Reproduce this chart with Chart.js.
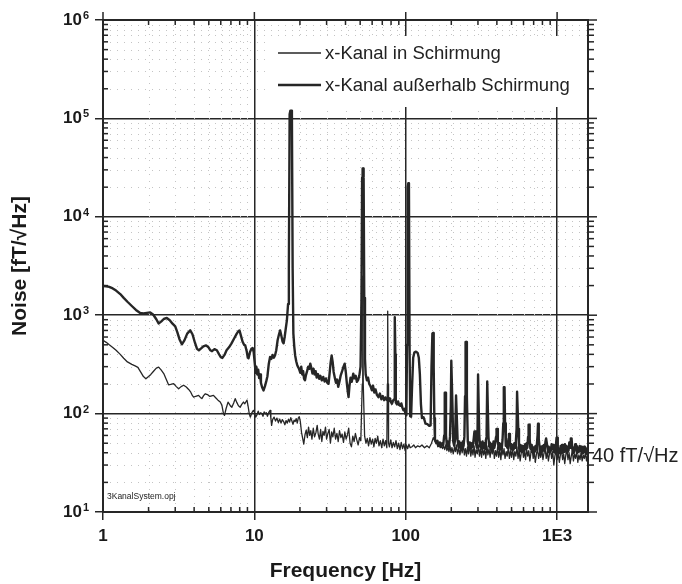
<!DOCTYPE html>
<html>
<head>
<meta charset="utf-8">
<script src="https://cdn.jsdelivr.net/npm/chart.js@4.4.1/dist/chart.umd.min.js"></script>
<style>
  html, body { margin: 0; padding: 0; background: #fff; }
  canvas { display: block; }
</style>
</head>
<body>
<canvas id="noiseChart" width="682" height="584"></canvas>
<script>
// Tick values and labels
const xTickValues = [1, 10, 100, 1000];
const xTickLabels = ['1', '10', '100', '1E3'];
const yTickValues = [10, 100, 1000, 10000, 100000, 1000000];
const yTickLabels = ['10', '10', '10', '10', '10', '10'];
const yTickExponents = ['1', '2', '3', '4', '5', '6'];

const seriesNames = ['x-Kanal in Schirmung', 'x-Kanal außerhalb Schirmung'];

// [frequency Hz, noise fT/√Hz]
const insideShield = [
  [1.0,555],[1.05,530],[1.1,500],[1.16,470],[1.22,440],[1.3,400],[1.37,365],[1.45,335],[1.55,316],[1.63,305],
  [1.7,295],[1.78,262],[1.85,238],[1.92,226],[2.0,238],[2.07,250],[2.15,268],[2.25,290],[2.33,297],[2.42,278],
  [2.52,255],[2.62,222],[2.71,196],[2.8,198],[2.93,202],[3.05,188],[3.16,179],[3.28,188],[3.41,194],[3.55,186],
  [3.68,176],[3.8,165],[3.9,152],[3.97,147],[4.1,150],[4.28,153],[4.4,146],[4.5,142],[4.62,152],[4.73,159],
  [4.9,156],[5.05,150],[5.2,151],[5.37,153],[5.55,145],[5.75,137],[5.95,131],[6.1,122],[6.25,100],[6.35,96],
  [6.5,112],[6.7,131],[6.85,124],[7.0,118],[7.1,116],[7.3,128],[7.47,142],[7.65,130],[7.85,120],[8.06,116],
  [8.25,124],[8.47,131],[8.65,126],[8.8,132],[8.94,137],[9.1,118],[9.25,100],[9.4,92],[9.6,101],[9.85,108],
  [10.0,103],[10.2,92],[10.4,97],[10.6,106],[10.8,98],[11.0,102],[11.2,100],[11.4,94],[11.6,104],[11.8,99],
  [12.0,102],[12.2,94],[12.45,103],[12.7,108],[12.85,90],[13.0,76],[13.2,87],[13.5,92],[13.8,84],[14.1,90],
  [14.4,81],[14.7,88],[15.0,80],[15.3,87],[15.6,83],[15.9,77],[16.2,85],[16.5,80],[16.8,88],[17.1,82],
  [17.4,91],[17.7,84],[18.0,78],[18.3,86],[18.6,83],[18.9,89],[19.2,80],[19.5,90],[19.8,93],[20.1,84],
  [20.5,64],[20.9,55],[21.2,49],[21.6,61],[22.0,68],[22.4,57],[22.8,73],[23.2,60],[23.6,67],[24.0,55],
  [24.5,71],[25.0,58],[25.5,64],[26.0,76],[26.4,62],[26.9,55],[27.4,69],[27.9,52],[28.4,66],[28.9,60],
  [29.5,73],[30.0,55],[30.6,63],[31.2,69],[31.8,50],[32.4,65],[33.0,58],[33.7,71],[34.4,55],[35.1,63],
  [35.8,52],[36.5,67],[37.3,57],[38.0,62],[38.8,51],[39.6,65],[40.4,55],[41.2,61],[42.0,71],[42.9,50],
  [43.8,46],[44.7,59],[45.6,52],[46.5,63],[47.5,54],[48.5,48],[49.5,57],[50.5,53],[51.6,200],[52.0,2500],
  [52.4,200],[53.5,59],[54.6,50],[55.7,56],[56.8,47],[58.0,57],[59.2,49],[60.4,55],[61.6,46],[62.8,56],
  [64.0,50],[65.3,59],[66.6,47],[68.0,53],[69.4,45],[70.8,55],[72.2,47],[73.6,53],[75.0,45],[75.6,200],
  [76.0,1100],[76.4,200],[77.0,50],[78.0,46],[79.6,54],[81.2,45],[82.8,51],[84.5,46],[86.2,53],[88.0,44],
  [89.8,50],[91.6,43],[93.4,51],[95.3,44],[97.2,49],[99.1,42],[101,48],[103,44],[105,49],[107,45],
  [110,46],[113,48],[116,45],[120,47],[124,46],[128,48],[133,45],[138,47],[143,45],[148,50],
  [152,57],[156,52],[160,51],[163,46],[166,49],[169,45],[172,48],[175,44],[178,47],[181,43],
  [184,48],[187,42],[190,46],[193,41],[196,47],[199,40],[202,45],[206,39],[210,46],[213,41],
  [216,48],[220,39],[224,45],[228,38],[232,46],[236,40],[240,49],[244,38],[248,44],[252,37],
  [256,46],[260,39],[265,48],[269,37],[274,44],[278,38],[283,47],[287,36],[292,43],[297,39],
  [302,48],[307,37],[312,44],[317,36],[322,46],[327,38],[333,43],[338,35],[344,47],[349,38],
  [355,44],[361,36],[367,45],[373,39],[379,47],[385,35],[392,42],[398,37],[405,46],[411,36],
  [418,43],[425,34],[432,45],[439,38],[446,44],[453,35],[461,41],[468,37],[476,46],[484,35],
  [492,42],[500,36],[508,45],[517,34],[525,41],[534,37],[543,46],[552,35],[561,42],[570,33],
  [580,40],[589,45],[599,36],[609,41],[619,34],[629,44],[640,37],[650,42],[661,33],[672,40],
  [683,45],[695,35],[706,41],[718,32],[730,39],[742,44],[755,35],[767,41],[780,36],[793,43],
  [806,34],[820,40],[833,45],[847,35],[861,41],[876,33],[890,39],[905,44],[920,35],[936,41],
  [951,30],[967,37],[983,43],[1000,34],[1017,40],[1034,32],[1051,38],[1069,43],[1087,34],[1105,39],
  [1123,31],[1142,38],[1161,43],[1180,34],[1200,40],[1220,31],[1240,37],[1261,42],[1282,33],[1304,39],
  [1325,35],[1348,41],[1370,32],[1393,38],[1417,34],[1440,40],[1464,33],[1489,38],[1514,35],[1539,40],
  [1565,33],[1590,38],[1600,36]
];

const outsideShield = [
  [1.0,1980],[1.05,1970],[1.1,1940],[1.16,1870],[1.22,1780],[1.3,1640],[1.37,1500],[1.45,1370],[1.55,1240],[1.65,1130],
  [1.76,1052],[1.85,1040],[1.95,1055],[2.05,1068],[2.15,1010],[2.25,910],[2.33,825],[2.42,860],[2.52,915],[2.64,937],
  [2.76,890],[2.88,820],[3.0,770],[3.1,670],[3.2,570],[3.32,506],[3.45,555],[3.6,650],[3.77,701],[3.9,640],
  [4.05,525],[4.18,455],[4.3,440],[4.45,460],[4.6,482],[4.8,494],[4.98,470],[5.12,440],[5.25,431],[5.45,452],
  [5.65,440],[5.85,400],[6.0,375],[6.15,368],[6.35,395],[6.55,440],[6.8,472],[7.05,515],[7.35,580],[7.65,650],
  [7.85,690],[7.98,700],[8.15,620],[8.35,540],[8.55,500],[8.7,494],[8.9,430],[9.05,370],[9.15,365],[9.35,420],
  [9.55,455],[9.75,464],[9.9,420],[10.05,330],[10.2,260],[10.3,300],[10.45,250],[10.6,280],[10.75,230],[10.9,250],
  [11.05,205],[11.25,185],[11.5,172],[11.75,190],[12.0,215],[12.2,240],[12.45,320],[12.7,376],[12.95,360],[13.2,395],
  [13.45,370],[13.7,392],[13.95,440],[14.25,560],[14.55,640],[14.8,700],[15.1,610],[15.35,540],[15.6,518],[15.85,600],
  [16.1,720],[16.4,887],[16.7,1300],[16.9,3000],[17.1,110000],[17.3,120000],[17.5,120000],[17.7,110000],[17.9,3000],[18.1,650],
  [18.35,480],[18.6,390],[18.9,340],[19.2,310],[19.5,295],[19.8,280],[20.1,260],[20.4,300],[20.7,250],[21.0,270],
  [21.3,225],[21.6,218],[21.9,245],[22.3,270],[22.7,300],[23.1,285],[23.4,322],[23.8,290],[24.2,255],[24.6,285],
  [25.0,250],[25.4,270],[25.8,232],[26.3,252],[26.8,226],[27.3,242],[27.9,218],[28.5,236],[29.1,212],[29.7,228],
  [30.3,206],[30.9,201],[31.4,255],[31.9,330],[32.4,390],[32.9,335],[33.4,265],[34.0,232],[34.6,206],[35.2,222],
  [35.8,187],[36.5,212],[37.2,245],[38.0,270],[38.8,300],[39.5,322],[40.2,262],[40.8,205],[41.4,168],[41.9,147],
  [42.5,192],[43.2,232],[44.0,210],[45.0,255],[45.8,228],[46.7,242],[47.6,210],[48.5,220],[49.4,245],[50.3,300],
  [51.0,1500],[51.5,25000],[51.9,31000],[52.3,31000],[52.7,25000],[53.2,1500],[53.8,360],[54.4,250],[55.4,218],[56.4,232],
  [57.4,200],[58.5,190],[59.7,173],[60.8,192],[62.0,164],[63.2,176],[64.5,155],[66.0,147],[67.5,160],[69.0,140],
  [70.5,151],[72.0,137],[73.5,146],[75.0,138],[77.0,134],[78.5,143],[80.0,130],[81.0,126],[82.5,136],[83.8,140],
  [84.4,400],[84.9,955],[85.4,400],[86.0,130],[87.5,124],[89.0,133],[90.5,122],[92.0,120],[93.5,127],[95.0,115],
  [96.6,108],[98.0,112],[99.5,100],[101,96],[102,500],[103,20000],[104,22000],[105,20000],[106,500],[107,94],
  [108.5,93],[110,180],[112,370],[114,418],[116,425],[118,423],[120,412],[122,370],[124,250],[126,125],
  [128,90],[131,92],[133,86],[135,79],[139,78],[143,75],[146,76],[148,300],[150,650],[151.5,660],
  [153,300],[154.5,90],[156,55],[159,50],[162,53],[165,47],[168,51],[171,46],[174,50],[177,48],
  [179.5,60],[181,163],[183,163],[184.5,60],[187,47],[190,52],[193,46],[196,58],[198.5,120],[200,345],
  [202,345],[203.5,120],[206,52],[209,47],[212,55],[215,153],[217.5,153],[220,55],[223,46],[226,52],
  [229,45],[232,50],[235,44],[238,52],[241,47],[244,58],[246.5,150],[248.5,534],[251.5,534],[253.5,150],
  [257,52],[261,45],[265,51],[269,44],[273,50],[277,46],[281,55],[284.5,66],[287.5,66],[291,50],
  [295,45],[298,60],[300.5,250],[303.5,250],[306,60],[310,46],[314,51],[318,44],[322,52],[326,45],
  [330,50],[334,44],[338,53],[342,58],[345.5,212],[349.5,212],[352,58],[356,46],[360,51],[365,43],
  [370,49],[375,44],[380,52],[385,45],[390,50],[395,58],[398,70],[402,70],[406,52],[411,44],
  [416,50],[421,43],[426,49],[431,44],[436,54],[441,80],[444.5,185],[449.5,185],[453,80],[458,47],
  [463,52],[468,45],[473,50],[478,56],[480.5,62],[484.5,62],[488,50],[493,44],[498,49],[504,43],
  [510,48],[516,43],[522,50],[528,45],[534,52],[540,70],[544,167],[550,167],[554,70],[560,45],
  [566,41],[573,48],[580,42],[587,47],[594,41],[601,46],[608,42],[615,49],[622,44],[629,50],
  [636,45],[643,58],[648,77],[654,77],[659,55],[666,44],[673,48],[680,41],[688,46],[696,40],
  [704,45],[712,41],[720,47],[728,43],[736,50],[743,60],[748,79],[754,79],[759,55],[767,45],
  [775,40],[784,46],[793,41],[802,47],[811,42],[820,48],[829,44],[838,52],[846,56],[854,56],
  [862,46],[871,41],[880,46],[890,40],[900,45],[910,42],[920,49],[930,44],[940,48],[950,41],
  [961,46],[972,40],[983,48],[992,57],[1000,57],[1010,45],[1021,39],[1032,44],[1043,40],[1055,47],
  [1066,42],[1078,48],[1090,40],[1102,45],[1114,41],[1126,49],[1138,43],[1151,47],[1164,41],[1177,46],
  [1190,42],[1204,51],[1218,45],[1232,56],[1246,56],[1260,44],[1274,40],[1289,45],[1303,41],[1318,49],
  [1333,43],[1348,47],[1363,40],[1379,45],[1394,41],[1410,47],[1426,42],[1442,46],[1458,39],[1475,44],
  [1491,40],[1508,46],[1525,41],[1542,45],[1560,39],[1577,43],[1595,40],[1600,41]
];

const FONT = "'Liberation Sans', Arial, sans-serif";
const INK = '#262626';

// minor decade steps (2..9) between min and max
function minorValues(min, max) {
  const out = [];
  for (let d = min; d < max; d *= 10) {
    for (let k = 2; k <= 9; k++) {
      if (k * d < max) out.push(k * d);
    }
  }
  return out;
}

function line(ctx, x1, y1, x2, y2) {
  ctx.beginPath();
  ctx.moveTo(x1, y1);
  ctx.lineTo(x2, y2);
  ctx.stroke();
}

const frameDecor = {
  id: 'frameDecor',
  beforeDatasetsDraw(chart) {
    const { ctx, chartArea: a, scales: { x, y } } = chart;
    const xMinor = minorValues(1, 1600);
    const yMinor = minorValues(10, 1e6);
    ctx.save();

    // dotted minor grid (faint, like the scan)
    ctx.strokeStyle = '#c4c4c4';
    ctx.lineWidth = 1;
    ctx.setLineDash([1, 6]);
    xMinor.forEach(v => {
      const px = Math.round(x.getPixelForValue(v)) + 0.5;
      line(ctx, px, a.top, px, a.bottom);
    });
    yMinor.forEach(v => {
      const py = Math.round(y.getPixelForValue(v)) + 0.5;
      line(ctx, a.left, py, a.right, py);
    });
    ctx.setLineDash([]);

    // frame
    ctx.strokeStyle = INK;
    ctx.lineWidth = 2;
    ctx.strokeRect(a.left, a.top, a.right - a.left, a.bottom - a.top);

    // minor ticks
    ctx.lineWidth = 1.5;
    xMinor.forEach(v => {
      const px = x.getPixelForValue(v);
      line(ctx, px, a.bottom, px, a.bottom - 5);
      line(ctx, px, a.top, px, a.top + 5);
    });
    yMinor.forEach(v => {
      const py = y.getPixelForValue(v);
      line(ctx, a.left, py, a.left + 5, py);
      line(ctx, a.right, py, a.right + 6, py);
    });

    // major ticks on top and right
    xTickValues.forEach(v => {
      const px = x.getPixelForValue(v);
      line(ctx, px, a.top - 8, px, a.top);
    });
    yTickValues.forEach(v => {
      const py = y.getPixelForValue(v);
      line(ctx, a.right, py, a.right + 9, py);
    });
    ctx.restore();
  },
  afterDatasetsDraw(chart) {
    const { ctx, chartArea: a, scales: { y } } = chart;
    ctx.save();

    // exponents of the y tick labels
    ctx.fillStyle = '#1a1a1a';
    ctx.font = 'bold 11px ' + FONT;
    ctx.textAlign = 'left';
    ctx.textBaseline = 'middle';
    yTickValues.forEach((v, i) => {
      ctx.fillText(yTickExponents[i], 83, y.getPixelForValue(v) - 4);
    });

    // legend inside the plot
    ctx.fillStyle = '#fff';
    ctx.fillRect(268, 36, a.right - 269, 71);
    ctx.strokeStyle = INK;
    ctx.lineWidth = 1.3;
    line(ctx, 278, 53, 321, 53);
    ctx.lineWidth = 2.4;
    line(ctx, 278, 85, 321, 85);
    ctx.fillStyle = '#222';
    ctx.font = '18.5px ' + FONT;
    ctx.fillText(seriesNames[0], 325, 54);
    ctx.fillText(seriesNames[1], 325, 86);

    // file name and level note
    ctx.font = '8.5px ' + FONT;
    ctx.fillText('3KanalSystem.opj', 107, 497);
    ctx.font = '20px ' + FONT;
    ctx.fillText('40 fT/√Hz', 592, 456);
    ctx.restore();
  }
};

new Chart(document.getElementById('noiseChart'), {
  type: 'scatter',
  data: {
    datasets: [
      {
        label: seriesNames[0],
        data: insideShield.map(p => ({ x: p[0], y: p[1] })),
        showLine: true,
        borderColor: INK,
        borderWidth: 1.3,
        pointRadius: 0,
        borderJoinStyle: 'round'
      },
      {
        label: seriesNames[1],
        data: outsideShield.map(p => ({ x: p[0], y: p[1] })),
        showLine: true,
        borderColor: INK,
        borderWidth: 2.4,
        pointRadius: 0,
        borderJoinStyle: 'round'
      }
    ]
  },
  options: {
    responsive: false,
    animation: false,
    devicePixelRatio: 1,
    layout: { padding: { top: 20, right: 94, left: 0, bottom: 0 } },
    plugins: {
      legend: { display: false },
      tooltip: { enabled: false }
    },
    scales: {
      x: {
        type: 'logarithmic',
        min: 1,
        max: 1600,
        afterBuildTicks: s => { s.ticks = xTickValues.map(v => ({ value: v })); },
        afterFit: s => { s.height = 72; },
        ticks: {
          autoSkip: false,
          maxRotation: 0,
          padding: 6,
          color: '#1a1a1a',
          font: { family: FONT, size: 17, weight: 'bold' },
          callback: v => xTickLabels[xTickValues.indexOf(v)]
        },
        grid: { color: INK, lineWidth: 1.5, tickLength: 8 },
        border: { display: false },
        title: {
          display: true,
          text: 'Frequency [Hz]',
          color: '#1a1a1a',
          font: { family: FONT, size: 21, weight: 'bold' },
          padding: { top: 0, bottom: 0 }
        }
      },
      y: {
        type: 'logarithmic',
        min: 10,
        max: 1000000,
        afterBuildTicks: s => { s.ticks = yTickValues.map(v => ({ value: v })); },
        afterFit: s => { s.width = 103; s.paddingTop = 0; s.paddingBottom = 0; },
        ticks: {
          autoSkip: false,
          padding: 13,
          color: '#1a1a1a',
          font: { family: FONT, size: 17, weight: 'bold', lineHeight: 1 },
          callback: v => yTickLabels[yTickValues.indexOf(v)]
        },
        grid: { color: INK, lineWidth: 1.5, tickLength: 8 },
        border: { display: false },
        title: {
          display: true,
          text: 'Noise [fT/√Hz]',
          color: '#1a1a1a',
          font: { family: FONT, size: 21, weight: 'bold' },
          padding: { top: 8, bottom: 0 }
        }
      }
    }
  },
  plugins: [frameDecor]
});
</script>
</body>
</html>
